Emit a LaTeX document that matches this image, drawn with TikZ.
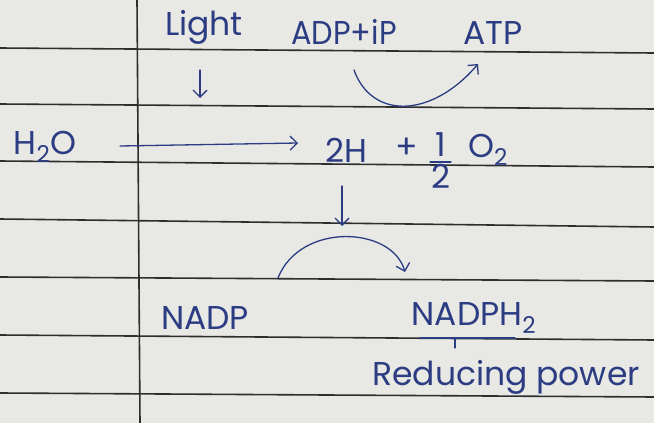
\documentclass[tikz,border=0pt]{standalone}
\usepackage{fontspec}
\setmainfont{Poppins}
\usetikzlibrary{arrows.meta}
\definecolor{paper}{HTML}{E8E8E5}
\definecolor{rule}{HTML}{2E2E2E}
\definecolor{ink}{HTML}{2C3C82}
\tikzset{
  txt/.style={text=ink, inner sep=0pt, font=\fontsize{33}{36}\selectfont},
  inkline/.style={draw=ink, line width=1.3pt, line cap=round},
  arr/.style={inkline, -{Straight Barb[length=7pt,width=14pt,line width=1.3pt]}},
  ruling/.style={draw=rule, line width=1.6pt}
}
\begin{document}
\begin{tikzpicture}[x=1pt,y=-1pt]
\fill[paper] (0,0) rectangle (654,423);
\useasboundingbox (0,0) rectangle (654,423);
% ruled lines
\foreach \a/\b in {48/53,104/109,161/167,219/227,277/281,335/340,393/397}
  \draw[ruling] (0,\a) -- (654,\b);
\draw[ruling] (137,0) -- (140,423);
% texts
\node[txt] (light) at (204,27) {Light};
\node[txt, xscale=0.92] (adp) at (344,32) {ADP+iP};
\node[txt] (atp) at (493,33) {ATP};
\node[txt] (h2o) at (45,147) {H\textsubscript{2}O};
\node[txt] (twoh) at (346,150) {2H};
\node[txt] (plus) at (407,148) {+};
\node[txt] (one) at (441,145) {1};
\node[txt] (two) at (441,176) {2};
\node[txt] (o2) at (488,150) {O\textsubscript{2}};
\node[txt] (nadp) at (205,318) {NADP};
\node[txt] (nadph) at (474,318) {NADPH\textsubscript{2}};
\node[txt] (red) at (506,377) {Reducing power};
% fraction bar
\draw[inkline] (430,162) -- (451,162);
% coordinates
\coordinate (l1) at (200,70);
\coordinate (l2) at (200,98);
\coordinate (h1) at (120,146);
\coordinate (h2) at (298,143);
\coordinate (c1) at (354,70);
\coordinate (c2) at (478,64);
\coordinate (d1) at (342,186);
\coordinate (d2) at (342,226);
\coordinate (e1) at (278,278);
\coordinate (e2) at (405,272);
\coordinate (u1) at (420,338);
\coordinate (u2) at (515,338);
\coordinate (t1) at (455,338);
\coordinate (t2) at (455,348);
% arrows
\draw[arr] (l1) -- (l2);
\draw[arr] (h1) -- (h2);
\draw[arr] (c1) .. controls (372,120) and (432,118) .. (c2);
\draw[arr] (d1) -- (d2);
\draw[arr] (e1) .. controls (300,222) and (392,226) .. (e2);
\draw[inkline] (u1) -- (u2);
\draw[inkline] (t1) -- (t2);
\end{tikzpicture}
\end{document}
